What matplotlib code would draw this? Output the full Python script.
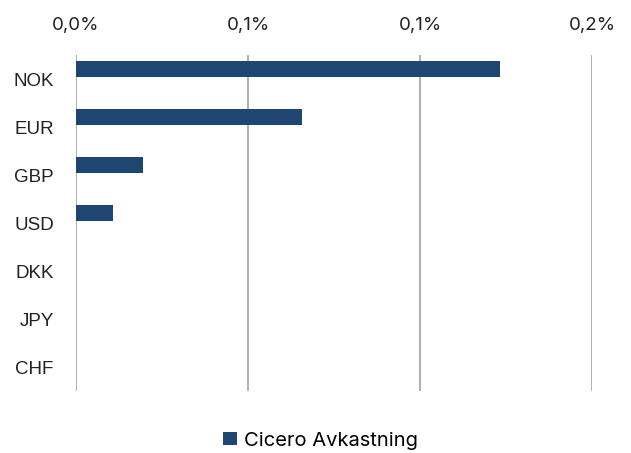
import numpy as np
import matplotlib.pyplot as plt

valutaer = ["NOK", "EUR", "GBP", "USD", "DKK", "JPY", "CHF"]
avkastning = [0.1233, 0.0656, 0.0194, 0.0107, 0.0, 0.0, 0.0]  # prosent
x_ticks = [0.0, 0.05, 0.10, 0.15]
x_labels = ["0,0%", "0,1%", "0,1%", "0,2%"]
serie = "Cicero Avkastning"

farge = "#1F4671"

fig = plt.figure(figsize=(6.31, 4.53), dpi=100)
ax = fig.add_axes([76 / 631, 62 / 453, 516 / 631, 336 / 453])

y = np.arange(len(valutaer))
# stolpen sitter litt over midten av kategorien (som i Excel med to serier)
ax.barh(y - 0.21, avkastning, height=0.33, color=farge, label=serie, zorder=3)

ax.set_ylim(len(valutaer) - 0.5, -0.5)
ax.set_xlim(0, 0.15)
ax.set_yticks(y)
ax.set_yticklabels(valutaer, family="Liberation Sans", fontsize=13.5, color="#222222")
ax.set_xticks(x_ticks)
ax.set_xticklabels(x_labels, family="Inter", fontsize=13.5, color="#222222")
ax.xaxis.tick_top()
ax.tick_params(axis="x", length=0, pad=15)
ax.tick_params(axis="y", length=0, pad=16)

ax.grid(axis="x", color="#b3b3b3", linewidth=1.5, zorder=0)
for s in ax.spines.values():
    s.set_visible(False)

fig.legend(loc="center", bbox_to_anchor=(0.508, 0.027), frameon=False,
           handlelength=0.65, handleheight=0.65, handletextpad=0.35,
           prop={"family": "Inter", "size": 14.5})

fig.savefig("out.png", dpi=100)
